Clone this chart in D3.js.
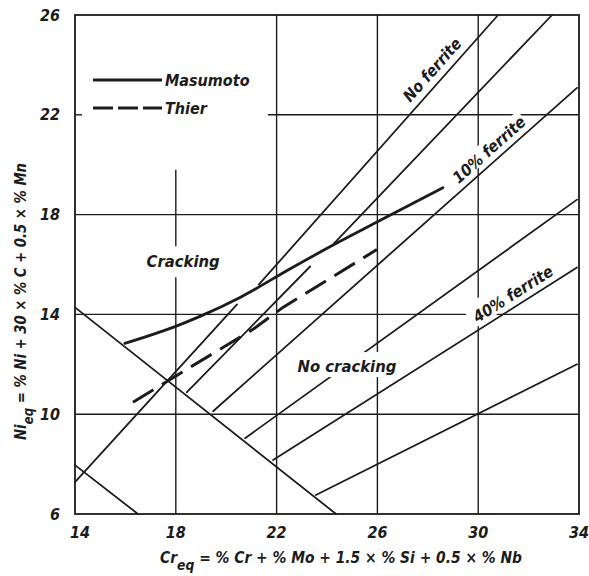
<!DOCTYPE html>
<html><head><meta charset="utf-8">
<script src="https://cdn.jsdelivr.net/npm/d3@7"></script>
<style>
body{margin:0;background:#fff}
text{font-family:"DejaVu Sans Condensed","DejaVu Sans",sans-serif;font-style:italic;font-weight:bold;fill:#1c1c1c}
</style></head><body>
<svg id="chart" width="589" height="576"></svg>
<script>
// ---- data ----
const xTicks = [14, 18, 22, 26, 30, 34];
const yTicks = [6, 10, 14, 18, 22, 26];
const masumoto = [[15.98,12.84],[17.89,13.48],[18.96,13.92],[20.55,14.68],[22.49,15.80],[24.28,16.80],[25.83,17.62],[28.6,19.08]];
const thier = [[16.3,10.48],[18.44,11.8],[21.06,13.4],[22.25,14.28],[25.98,16.6]];
const crackBoundUpper = [[14,14.28],[24.36,6]];
const crackBoundLower = [[14,7.96],[16.5,6]];
const lineL1 = [[14,7.28],[20.43,14.4]];
const lineA = [[18.44,10.88],[23.33,15.92]];
const noFerrite = [[21.3,15.2],[30.79,26]];
const line2 = [[24.28,16.85],[32.93,26]];
const ferrite10 = [[19.48,10.12],[33.92,23.08]];
const lineC = [[20.75,9.04],[33.92,18.6]];
const ferrite40 = [[21.86,8.16],[33.92,15.88]];
const lineE = [[23.56,6.76],[33.92,12.0]];
const legendNames = ["Masumoto", "Thier"];

// ---- layout ----
const svg = d3.select("#chart");
const x = d3.scaleLinear().domain([14,34]).range([75,579]);
const y = d3.scaleLinear().domain([6,26]).range([514,15]);
const ink = "#1c1c1c";
const line = d3.line().x(d=>x(d[0])).y(d=>y(d[1]));

// grid
const g = svg.append("g").attr("stroke", ink).attr("stroke-width", 1.4).attr("fill","none");
[18,22,26,30].forEach(v=>{
  const top = v===18 ? 19.8 : 26;
  g.append("line").attr("x1",x(v)).attr("x2",x(v)).attr("y1",y(top)).attr("y2",y(6));
});
[10,14,18,22].forEach(v=>{
  const left = v===22 ? 21.66 : 14;
  g.append("line").attr("x1",x(left)).attr("x2",x(34)).attr("y1",y(v)).attr("y2",y(v));
});
g.append("line").attr("x1",x(14)).attr("x2",x(14)+7).attr("y1",y(22)).attr("y2",y(22));

// data lines
const dl = svg.append("g").attr("fill","none").attr("stroke",ink).attr("stroke-width",1.8).attr("stroke-linecap","round");
[crackBoundUpper, crackBoundLower, lineL1, lineA, noFerrite, line2, ferrite10, lineC, ferrite40, lineE].forEach(d=>{
  dl.append("path").attr("d", line(d));
});

// label masks + labels
function maskedLabel(txt, cx, cy, angle, size, pad) {
  const gg = svg.append("g").attr("transform", `translate(${cx},${cy}) rotate(${angle})`);
  const t = gg.append("text").attr("text-anchor","middle").attr("dy","0.35em").attr("font-size",size).text(txt);
  const bb = t.node().getBBox();
  gg.insert("rect","text").attr("x",bb.x-pad[0]).attr("y",bb.y-pad[1]).attr("width",bb.width+2*pad[0]).attr("height",bb.height+pad[1]+pad[2]).attr("fill","#fff");
  return gg;
}
maskedLabel("Cracking", x(18.29), y(16.12), 0, 16.5, [3,6,6]);
maskedLabel("No cracking", x(24.79), y(11.92), 0, 16.5, [2,5,1]);
const ang = d => Math.atan2(y(d[1][1])-y(d[0][1]), x(d[1][0])-x(d[0][0]))*180/Math.PI;
maskedLabel("40% ferrite", x(31.38), y(14.82), ang(ferrite40), 16, [4,6,-1]);
maskedLabel("10% ferrite", x(30.43), y(20.6), ang(ferrite10), 16, [1,1,-3]);
maskedLabel("No ferrite", x(28.17), y(23.8), ang(noFerrite), 16, [1,1,-3]);

// curves
svg.append("path").attr("d", d3.line().x(d=>x(d[0])).y(d=>y(d[1])).curve(d3.curveMonotoneX)(masumoto))
  .attr("fill","none").attr("stroke",ink).attr("stroke-width",2.8).attr("stroke-linecap","round");
svg.append("path").attr("d", line(thier))
  .attr("fill","none").attr("stroke",ink).attr("stroke-width",3).attr("stroke-dasharray","24,10");

// frame
svg.append("rect").attr("x",x(14)).attr("y",y(26)).attr("width",x(34)-x(14)).attr("height",y(6)-y(26))
  .attr("fill","none").attr("stroke",ink).attr("stroke-width",1.8);

// tick labels
svg.append("g").selectAll("text").data(xTicks).join("text")
  .attr("x",d=>x(d)+(d===14?5:0)).attr("y",538).attr("text-anchor","middle").attr("font-size",16).text(d=>d);
svg.append("g").selectAll("text").data(yTicks).join("text")
  .attr("x",60).attr("y",d=>y(d)).attr("dy","0.35em").attr("text-anchor","end").attr("font-size",16).text(d=>d);

// axis titles
const xt = svg.append("text").attr("x",160).attr("y",563).attr("font-size",15)
  .attr("textLength",362).attr("lengthAdjust","spacingAndGlyphs");
xt.append("tspan").text("Cr");
xt.append("tspan").attr("dy",7).attr("font-size",13.5).text("eq");
xt.append("tspan").attr("dy",-7).text(" = % Cr + % Mo + 1.5 × % Si + 0.5 × % Nb");

const yt = svg.append("text").attr("transform","translate(26,440) rotate(-90)").attr("font-size",15)
  .attr("textLength",277).attr("lengthAdjust","spacingAndGlyphs");
yt.append("tspan").text("Ni");
yt.append("tspan").attr("dy",7).attr("font-size",13.5).text("eq");
yt.append("tspan").attr("dy",-7).text(" = % Ni + 30 × % C + 0.5 × % Mn");

// legend
const leg = svg.append("g");
legendNames.forEach((n,i)=>{
  const yy = 80 + i*28;
  leg.append("line").attr("x1",93).attr("x2",162).attr("y1",yy).attr("y2",yy)
    .attr("stroke",ink).attr("stroke-width",2.8).attr("stroke-dasharray", i===1 ? "20,5" : null);
  leg.append("text").attr("x",165).attr("y",yy).attr("dy","0.35em").attr("font-size",16).text(n);
});
</script>
</body></html>
